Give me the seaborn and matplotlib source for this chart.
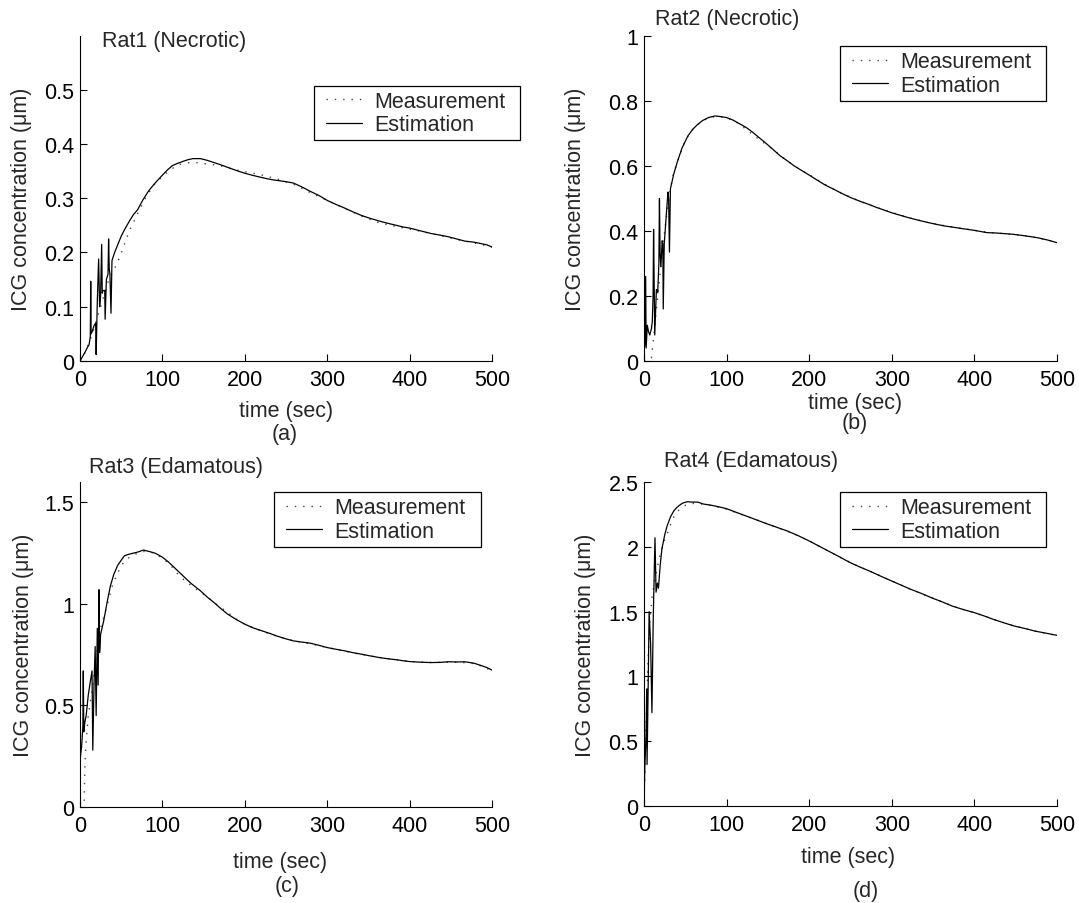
import numpy as np
import pandas as pd
import matplotlib
matplotlib.use("Agg")
import matplotlib.pyplot as plt
import matplotlib.patches as mpatches
from matplotlib.ticker import FuncFormatter
import seaborn as sns

# ---------------- data (time in sec, ICG concentration in um) ----------------
est_a = [(0, 0.0), (3, 0.008), (6, 0.016), (9, 0.025), (11, 0.03), (12.5, 0.045), (13, 0.147), (13.5, 0.05),
         (15, 0.055), (17, 0.065), (19, 0.07), (19.6, 0.012), (21, 0.11), (22.6, 0.188), (23.8, 0.1), (25, 0.12),
         (26.3, 0.215), (27, 0.125), (28, 0.13), (30, 0.13), (30.5, 0.077), (32, 0.15), (34, 0.16), (34.7, 0.225),
         (35.5, 0.17), (36.3, 0.16), (37.6, 0.088), (38.8, 0.185), (42, 0.2), (46, 0.215), (50, 0.23), (54, 0.242),
         (60, 0.258), (65, 0.27), (70, 0.279), (76, 0.296), (83, 0.313), (90, 0.326), (99, 0.341), (106, 0.352),
         (112, 0.36), (118, 0.364), (125, 0.368), (131, 0.371), (137, 0.373), (146, 0.373), (154, 0.37),
         (162, 0.366), (170, 0.362), (179, 0.357), (190, 0.351), (200, 0.346), (210, 0.342), (221, 0.338),
         (230, 0.335), (238, 0.333), (248, 0.331), (259, 0.328), (269, 0.321), (279, 0.313), (290, 0.305),
         (300, 0.296), (310, 0.289), (321, 0.282), (331, 0.275), (342, 0.268), (352, 0.263), (363, 0.258),
         (373, 0.254), (384, 0.25), (392, 0.247), (400, 0.245), (413, 0.24), (426, 0.235), (437, 0.232),
         (447, 0.229), (457, 0.225), (467, 0.221), (478, 0.219), (488, 0.216), (494, 0.214), (500, 0.21)]
meas_a = [(0, 0.0), (5, 0.012), (10, 0.03), (15, 0.05), (20, 0.075), (25, 0.1), (30, 0.125), (35, 0.15),
          (40, 0.165), (45, 0.18), (50, 0.198), (55, 0.22), (60, 0.24), (70, 0.272), (80, 0.302), (90, 0.325),
          (100, 0.34), (110, 0.353), (120, 0.362), (130, 0.365), (140, 0.366), (150, 0.364), (160, 0.362),
          (170, 0.36), (180, 0.356), (190, 0.352), (200, 0.349), (220, 0.343), (240, 0.335), (260, 0.325),
          (280, 0.31), (300, 0.296), (320, 0.282), (340, 0.268), (360, 0.256), (380, 0.249), (400, 0.243),
          (420, 0.237), (440, 0.23), (460, 0.223), (480, 0.217), (500, 0.21)]

est_b = [(0, 0.03), (1, 0.05), (2, 0.26), (2.6, 0.04), (4, 0.11), (5.5, 0.09), (7, 0.08), (9, 0.1), (10, 0.12),
         (11, 0.2), (11.6, 0.405), (13, 0.08), (15, 0.22), (16.6, 0.21), (18, 0.3), (18.7, 0.5), (19.5, 0.33),
         (20.4, 0.29), (22, 0.37), (22.8, 0.36), (23.3, 0.16), (24.5, 0.36), (27, 0.45), (29, 0.52), (29.8, 0.5),
         (30.8, 0.335), (32, 0.53), (36, 0.575), (40, 0.61), (46, 0.655), (53, 0.692), (59, 0.713), (65, 0.728),
         (71, 0.74), (78, 0.749), (86, 0.754), (93, 0.752), (100, 0.749), (108, 0.741), (115, 0.731),
         (124, 0.718), (132, 0.703), (140, 0.686), (149, 0.667), (157, 0.649), (165, 0.631), (174, 0.615),
         (182, 0.6), (191, 0.586), (200, 0.572), (210, 0.556), (219, 0.542), (230, 0.528), (240, 0.515),
         (250, 0.503), (261, 0.492), (272, 0.482), (282, 0.472), (291, 0.464), (300, 0.456), (312, 0.447),
         (323, 0.439), (334, 0.432), (344, 0.426), (355, 0.42), (365, 0.415), (376, 0.411), (386, 0.407),
         (400, 0.402), (415, 0.395), (425, 0.394), (436, 0.392), (446, 0.39), (456, 0.387), (467, 0.383),
         (477, 0.379), (489, 0.372), (500, 0.364)]
meas_b = [(0, 0.0), (5, 0.01), (9, 0.01), (12, 0.08), (15, 0.16), (20, 0.28), (25, 0.4), (30, 0.5), (35, 0.57),
          (40, 0.61), (50, 0.68), (60, 0.715), (70, 0.738), (80, 0.75), (90, 0.752), (100, 0.748), (110, 0.738),
          (120, 0.72), (130, 0.7), (140, 0.68), (150, 0.663), (160, 0.643), (170, 0.622), (180, 0.604),
          (190, 0.588), (200, 0.573), (220, 0.542), (240, 0.515), (260, 0.493), (280, 0.474), (300, 0.457),
          (320, 0.442), (340, 0.428), (360, 0.418), (380, 0.41), (400, 0.402), (420, 0.395), (440, 0.391),
          (460, 0.386), (480, 0.377), (500, 0.366)]

est_c = [(0, 0.23), (2, 0.3), (3.5, 0.4), (4, 0.67), (4.6, 0.37), (6, 0.42), (7.5, 0.45), (10, 0.55), (13, 0.63),
         (14.6, 0.67), (15.5, 0.28), (17, 0.6), (18.4, 0.79), (19.6, 0.45), (21, 0.88), (22, 0.6), (23, 1.07),
         (23.8, 0.76), (25, 0.85), (28.8, 0.917), (33, 1.01), (37, 1.09), (41, 1.145), (45.5, 1.188), (50, 1.215),
         (54, 1.237), (60, 1.245), (64, 1.249), (70, 1.255), (77, 1.265), (84, 1.258), (91.5, 1.249), (100, 1.23),
         (108, 1.204), (116, 1.173), (125, 1.138), (135, 1.1), (146, 1.065), (154, 1.035), (162.5, 1.007),
         (170, 0.98), (179, 0.95), (190, 0.922), (200, 0.9), (210, 0.882), (221, 0.867), (230, 0.855),
         (238, 0.843), (248, 0.83), (258.6, 0.818), (269, 0.812), (279, 0.807), (290, 0.796), (300, 0.785),
         (310, 0.777), (321, 0.769), (331, 0.76), (342, 0.752), (352, 0.744), (363, 0.736), (373, 0.73),
         (384, 0.725), (392, 0.72), (400, 0.716), (413, 0.713), (426, 0.711), (437, 0.712), (447, 0.715),
         (457, 0.714), (467, 0.715), (478, 0.708), (488, 0.695), (494, 0.686), (500, 0.674)]
meas_c = [(5, 0.03), (5.5, 0.12), (6, 0.2), (7, 0.3), (10, 0.45), (15, 0.58), (20, 0.75), (25, 0.88), (30, 0.95),
          (40, 1.1), (50, 1.19), (60, 1.23), (70, 1.25), (80, 1.26), (90, 1.25), (100, 1.225), (110, 1.19),
          (120, 1.14), (130, 1.105), (140, 1.075), (150, 1.048), (160, 1.015), (170, 0.985), (180, 0.955),
          (190, 0.925), (200, 0.9), (220, 0.866), (240, 0.84), (260, 0.818), (280, 0.803), (300, 0.785),
          (320, 0.768), (340, 0.752), (360, 0.738), (380, 0.727), (400, 0.717), (420, 0.712), (440, 0.712),
          (460, 0.713), (480, 0.705), (500, 0.672)]

est_d = [(0, 0.0), (1, 0.3), (2.5, 0.55), (3.3, 0.9), (3.7, 0.32), (5, 0.9), (6.2, 1.5), (8, 1.25), (9.6, 0.72),
         (11.2, 1.45), (13.3, 2.07), (14.6, 1.65), (16.2, 1.72), (17.5, 1.68), (19.5, 1.85), (21.6, 1.98),
         (25, 2.09), (27.9, 2.16), (32, 2.23), (36, 2.276), (40, 2.305), (44.5, 2.328), (48, 2.34),
         (52.8, 2.348), (58, 2.345), (65, 2.345), (72, 2.33), (82, 2.32), (91, 2.308), (100, 2.294),
         (112, 2.265), (123.5, 2.238), (136, 2.208), (148.5, 2.178), (161, 2.15), (173.5, 2.122), (187, 2.085),
         (200, 2.045), (212, 2.005), (223, 1.968), (236, 1.925), (248, 1.883), (261, 1.845), (273, 1.813),
         (286, 1.775), (300, 1.736), (311, 1.705), (323, 1.672), (336, 1.64), (348, 1.607), (361, 1.575),
         (373, 1.543), (387, 1.515), (400, 1.492), (412, 1.466), (423, 1.44), (436, 1.413), (448, 1.389),
         (461, 1.37), (473, 1.35), (487, 1.333), (500, 1.317)]
meas_d = [(0, 0.0), (2, 0.5), (4, 0.95), (6, 1.3), (8, 1.5), (10, 1.62), (13, 1.74), (16, 1.84), (20, 1.95),
          (24, 2.04), (28, 2.1), (32, 2.17), (36, 2.23), (40, 2.27), (45, 2.3), (50, 2.32), (60, 2.335),
          (70, 2.33), (80, 2.32), (90, 2.305), (100, 2.29), (120, 2.245), (140, 2.198), (160, 2.152),
          (180, 2.105), (200, 2.045), (220, 1.978), (240, 1.91), (260, 1.848), (280, 1.795), (300, 1.736),
          (320, 1.68), (340, 1.628), (360, 1.578), (380, 1.528), (400, 1.492), (420, 1.447), (440, 1.405),
          (460, 1.37), (480, 1.34), (500, 1.315)]

titles = ["Rat1 (Necrotic)", "Rat2 (Necrotic)", "Rat3 (Edamatous)", "Rat4 (Edamatous)"]
captions = ["(a)", "(b)", "(c)", "(d)"]
y_limits = [0.599, 1.0, 1.6, 2.5]
y_ticks = [[0, 0.1, 0.2, 0.3, 0.4, 0.5], [0, 0.2, 0.4, 0.6, 0.8, 1.0], [0, 0.5, 1.0, 1.5],
           [0, 0.5, 1.0, 1.5, 2.0, 2.5]]
x_ticks = [0, 100, 200, 300, 400, 500]
series_names = ["Measurement", "Estimation"]

# ---------------- layout (pixels) ----------------
W, H = 1079, 904
FS = 15.5
sns.set_theme(style="white")
plt.rcParams['font.family'] = ['Liberation Sans', 'DejaVu Sans']
plt.rcParams['font.size'] = FS

fig = plt.figure(figsize=(W / 100, H / 100), dpi=100)
fig.patch.set_facecolor('white')

def fx(px):
    return px / W

def fy(py):
    return 1 - py / H

axes_px = [(80, 37, 492, 362), (644, 37, 1057, 362), (80, 483, 492, 808), (644, 483, 1057, 807)]
legend_px = [(314, 87, 520, 141), (840, 47, 1046, 102), (274, 493, 481, 548), (840, 493, 1046, 548)]
title_px = [(102, 42), (655, 20), (89, 468), (664, 462)]
xlabel_px = [(286, 412), (855, 404), (280, 863), (848, 858)]
caption_px = [(285, 435), (855, 424), (287, 887), (866, 892)]
ylabel_px = [22, 576, 24, 585]

est_all = [est_a, est_b, est_c, est_d]
meas_all = [meas_a, meas_b, meas_c, meas_d]

fmt = FuncFormatter(lambda v, p: ('%g' % round(v, 3)))

for i in range(4):
    l, t, r, b = axes_px[i]
    ax = fig.add_axes([fx(l), fy(b), fx(r) - fx(l), fy(t) - fy(b)])
    ax.set_facecolor('white')
    dm = pd.DataFrame(meas_all[i], columns=["t", "c"])
    de = pd.DataFrame(est_all[i], columns=["t", "c"])
    sns.lineplot(data=dm, x="t", y="c", ax=ax, color='#444444', linewidth=1.0,
                 linestyle=(0, (1, 5)), sort=False, estimator=None, label=series_names[0])
    sns.lineplot(data=de, x="t", y="c", ax=ax, color='black', linewidth=0.9,
                 sort=False, estimator=None, label=series_names[1])
    ax.set_xlim(0, 500)
    ax.set_ylim(0, y_limits[i])
    ax.set_xticks(x_ticks)
    ax.set_yticks(y_ticks[i])
    ax.yaxis.set_major_formatter(fmt)
    ax.xaxis.set_major_formatter(fmt)
    for s in ['top', 'right']:
        ax.spines[s].set_visible(False)
    for s in ['left', 'bottom']:
        ax.spines[s].set_color('black')
        ax.spines[s].set_linewidth(0.8)
    ax.tick_params(direction='in', length=5, width=0.8, colors='black', labelsize=FS,
                   bottom=True, left=True, top=False, right=False)
    ax.tick_params(axis='x', pad=6)
    ax.tick_params(axis='y', pad=4)

    ax.set_xlabel("time (sec)", fontsize=FS, va='center', ha='center')
    ax.xaxis.set_label_coords((xlabel_px[i][0] - l) / (r - l), (b - xlabel_px[i][1]) / (b - t))
    ax.set_ylabel("ICG concentration (\u03bcm)", fontsize=FS, va='center', ha='center')
    ax.yaxis.set_label_coords((ylabel_px[i] - l) / (r - l), 0.5)

    # legend
    lx0, ly0, lx1, ly1 = legend_px[i]
    ax.legend(loc='center left',
              bbox_to_anchor=(fx(lx0), fy(ly1), fx(lx1) - fx(lx0), fy(ly0) - fy(ly1)),
              bbox_transform=fig.transFigure, frameon=False, fontsize=FS,
              borderaxespad=0.55, borderpad=0.0, handlelength=1.66, handletextpad=0.6,
              labelspacing=0.1)
    rect = mpatches.Rectangle((fx(lx0), fy(ly1)), fx(lx1) - fx(lx0), fy(ly0) - fy(ly1),
                              transform=fig.transFigure, fill=False, edgecolor='black', linewidth=0.9)
    fig.add_artist(rect)

    fig.text(fx(title_px[i][0]), fy(title_px[i][1]), titles[i], fontsize=FS, ha='left', va='center')
    fig.text(fx(caption_px[i][0]), fy(caption_px[i][1]), captions[i], fontsize=FS, ha='center', va='center')

fig.savefig("out.png", dpi=100, facecolor='white')
